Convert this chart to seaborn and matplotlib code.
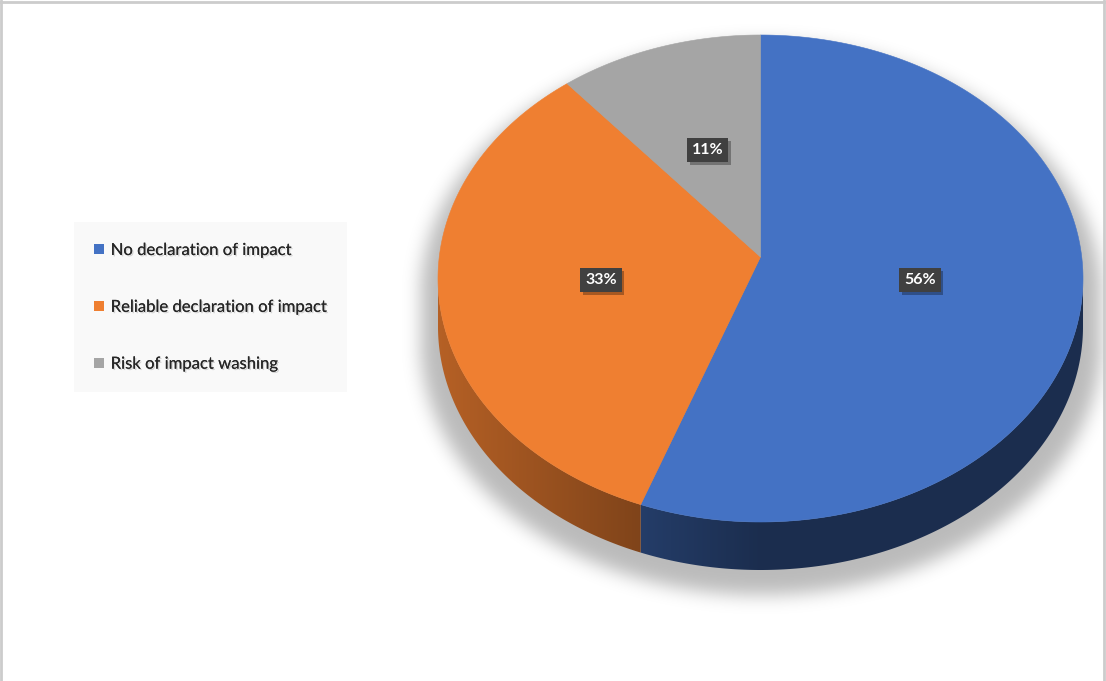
import numpy as np
import matplotlib
matplotlib.use("Agg")
import matplotlib.pyplot as plt
import matplotlib.patheffects as pe
from matplotlib.patches import Polygon, Patch
from matplotlib.lines import Line2D
import seaborn as sns

# ---- data ----
categories = ["No declaration of impact", "Reliable declaration of impact", "Risk of impact washing"]
counts = [5, 3, 1]
slice_colors = ["#4472C4", "#EF7F31", "#A5A5A5"]

sns.set_theme(style="white")
plt.rcParams["font.family"] = ["Lato", "DejaVu Sans"]
palette = sns.color_palette(slice_colors)

W, H = 1106, 681
fig = plt.figure(figsize=(W / 100, H / 100), dpi=100)
fig.patch.set_facecolor("white")
ax = fig.add_axes([0, 0, 1, 1])
ax.set_xlim(0, W)
ax.set_ylim(H, 0)
ax.axis("off")

# ---- 3D pie geometry (pixel space, y pointing down) ----
cx, cy = 760.5, 278.5            # centre of the top ellipse
ra, rb = 322.5, 243.5            # semi-axes of the top ellipse
apex = np.array([760.5, 257.0])  # projected centre of the disc
depth = 48                       # thickness of the disc
persp_k = 0.0883                 # perspective foreshortening
persp_a = ra * np.sqrt(1 - persp_k ** 2)
persp_b = (apex[1] - 35.0) * (1 + persp_k)


def project(r, theta, drop=0.0):
    """Perspective projection of polar point (r, theta) on the tilted disc."""
    r = np.asarray(r, dtype=float)
    theta = np.asarray(theta, dtype=float)
    u, v = r * np.sin(theta), r * np.cos(theta)
    d = 1 + persp_k * u
    return np.column_stack([apex[0] + persp_a * v / d,
                            apex[1] - persp_b * u / d + drop])


frac = np.array(counts, dtype=float) / np.sum(counts)
pct_labels = [f"{round(100 * f):d}%" for f in frac]
cw_edges = np.concatenate([[0.0], np.cumsum(frac)]) * 2 * np.pi  # clockwise from 12 o'clock
starts = np.pi / 2 - cw_edges[:-1]
ends = np.pi / 2 - cw_edges[1:]

# ---- soft drop shadow under the disc ----
yy, xx = np.mgrid[0:H, 0:W].astype(float)
sa, sb, sdrop = ra * 1.055, rb * 1.035, 16.0
dx = (xx - cx) / sa
y_rel = yy - (cy + sdrop)
top_part = dx ** 2 + (y_rel / sb) ** 2 <= 1
bot_part = dx ** 2 + ((y_rel - depth) / sb) ** 2 <= 1
mid_part = (np.abs(dx) <= 1) & (y_rel >= 0) & (y_rel <= depth)
mask = (top_part | bot_part | mid_part).astype(float)

sigma = 9.0
k = np.arange(-int(3 * sigma), int(3 * sigma) + 1)
kernel = np.exp(-0.5 * (k / sigma) ** 2)
kernel /= kernel.sum()
blur = np.array([np.convolve(r, kernel, mode="same") for r in mask])
blur = np.array([np.convolve(c, kernel, mode="same") for c in blur.T]).T
shadow = np.zeros((H, W, 4))
shadow[..., 3] = 0.27 * blur
ax.imshow(shadow, extent=(0, W, H, 0), zorder=1, interpolation="bilinear")

# ---- side wall (front half of the rim), lit from the left ----
x_cols = np.arange(W) + 0.5
shade = 0.40 + 0.36 * np.clip((cx - x_cols) / ra, 0, 1)
# the front half of the rim lies between the two horizontal extremes
t_ext = np.arcsin(-persp_k)
lo, hi = -np.pi - t_ext, t_ext
for i in range(len(counts)):
    for off in (-2 * np.pi, 0.0, 2 * np.pi):
        a0 = max(ends[i] + off, lo)
        a1 = min(starts[i] + off, hi)
        if a1 <= a0:
            continue
        th = np.linspace(a0, a1, 200)
        wall = np.vstack([project(1.0, th), project(1.0, th[::-1], drop=depth)])
        clip = Polygon(wall, closed=True, facecolor="none", edgecolor="none",
                       transform=ax.transData)
        ax.add_patch(clip)
        grad = np.ones((2, W, 3)) * np.array(palette[i])[None, None, :]
        grad = grad * shade[None, :, None]
        im = ax.imshow(grad, extent=(0, W, H, 0), aspect="auto", zorder=2,
                       interpolation="bilinear")
        im.set_clip_path(clip)

# ---- top face ----
for i in range(len(counts)):
    th = np.linspace(starts[i], ends[i], 240)
    pts = np.vstack([apex, project(1.0, th)])
    ax.add_patch(Polygon(pts, closed=True, facecolor=palette[i], edgecolor=palette[i],
                         linewidth=0.4, zorder=3))

# ---- value labels ----
for i, txt in enumerate(pct_labels):
    tm = 0.5 * (starts[i] + ends[i])
    px, py = project(0.5, tm)[0]
    t = ax.text(px, py + 2, txt, ha="center", va="center", color="white", fontsize=11.5,
                fontweight="bold", zorder=5,
                bbox=dict(boxstyle="square,pad=0.3", fc="#404040", ec="none"))
    t.get_bbox_patch().set_path_effects([
        pe.withSimplePatchShadow(offset=(2, -2), shadow_rgbFace="black", alpha=0.3)])

# ---- legend ----
handles = [Patch(facecolor=c, edgecolor="none") for c in palette]
leg = fig.legend(handles, categories, loc="upper left",
                 bbox_to_anchor=(74 / W, 1 - 222 / H), borderaxespad=0,
                 fontsize=12, handlelength=0.58, handleheight=0.58,
                 handletextpad=0.42, labelspacing=2.45, borderpad=1.2,
                 frameon=True, fancybox=False)
leg.get_frame().set_facecolor("#F8F8F8")
leg.get_frame().set_edgecolor("none")
for txt in leg.get_texts():
    txt.set_color("#262626")
    txt.set_path_effects([pe.withSimplePatchShadow(offset=(1, -1), shadow_rgbFace="black", alpha=0.15),
                          pe.Normal()])

# ---- outer frame (left, top, right) ----
frame_kw = dict(transform=fig.transFigure, color="#CCCCCC", linewidth=2.0, zorder=10)
fig.lines.append(Line2D([0.0005, 0.0005], [0, 1], **frame_kw))
fig.lines.append(Line2D([0, 1], [1 - 1.5 / H, 1 - 1.5 / H], **frame_kw))
fig.lines.append(Line2D([1 - 2.5 / W, 1 - 2.5 / W], [0, 1], **frame_kw))

fig.savefig("out.png", dpi=100, facecolor="white")
